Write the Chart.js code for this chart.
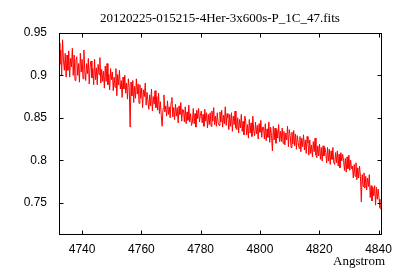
<!DOCTYPE html>
<html lang="en">
<head>
    <meta charset="UTF-8">
    <title>20120225-015215-4Her-3x600s-P_1C_47.fits</title>
    <script src="https://cdn.jsdelivr.net/npm/chart.js"></script>
    <style>
        body { margin: 0; background: #fff; }
        canvas { display: block; }
    </style>
</head>
<body>
    <canvas id="spectrum" width="400" height="280"></canvas>

    <script>
        const chartTitle = '20120225-015215-4Her-3x600s-P_1C_47.fits';
        const xLabel = 'Angstrom';

        // wavelength grid of the spectrum (Angstrom)
        const waveStart = 4732.2;
        const waveStep = 0.3;

        // normalised flux, one line per 3 Angstrom
        const flux = [
            0.938, 0.913, 0.930, 0.900, 0.942, 0.918, 0.906, 0.926, 0.898, 0.924,
            0.906, 0.929, 0.898, 0.920, 0.910, 0.932, 0.900, 0.924, 0.894, 0.917,
            0.922, 0.900, 0.914, 0.892, 0.926, 0.904, 0.919, 0.896, 0.930, 0.907,
            0.894, 0.914, 0.902, 0.920, 0.890, 0.911, 0.917, 0.897, 0.908, 0.889,
            0.919, 0.895, 0.909, 0.889, 0.913, 0.901, 0.921, 0.891, 0.907, 0.893,
            0.905, 0.885, 0.911, 0.893, 0.914, 0.889, 0.901, 0.883, 0.908, 0.895,
            0.904, 0.882, 0.898, 0.886, 0.908, 0.876, 0.901, 0.889, 0.906, 0.884,
            0.894, 0.874, 0.898, 0.884, 0.900, 0.879, 0.891, 0.872, 0.896, 0.886,
            0.839, 0.892, 0.876, 0.894, 0.868, 0.887, 0.873, 0.896, 0.878, 0.890,
            0.867, 0.889, 0.873, 0.885, 0.862, 0.883, 0.875, 0.891, 0.865, 0.880,
            0.880, 0.860, 0.877, 0.864, 0.884, 0.858, 0.875, 0.866, 0.882, 0.862,
            0.875, 0.859, 0.879, 0.855, 0.869, 0.853, 0.840, 0.861, 0.877, 0.857,
            0.864, 0.852, 0.870, 0.854, 0.863, 0.850, 0.868, 0.874, 0.851, 0.862,
            0.848, 0.866, 0.852, 0.862, 0.844, 0.864, 0.854, 0.868, 0.846, 0.860,
            0.859, 0.845, 0.863, 0.843, 0.857, 0.847, 0.865, 0.845, 0.855, 0.841,
            0.845, 0.861, 0.843, 0.855, 0.839, 0.859, 0.849, 0.861, 0.845, 0.853,
            0.858, 0.844, 0.854, 0.840, 0.860, 0.846, 0.856, 0.838, 0.854, 0.842,
            0.856, 0.840, 0.858, 0.846, 0.862, 0.842, 0.852, 0.840, 0.856, 0.844,
            0.841, 0.857, 0.845, 0.859, 0.839, 0.853, 0.843, 0.863, 0.841, 0.855,
            0.850, 0.836, 0.854, 0.840, 0.856, 0.834, 0.852, 0.842, 0.858, 0.838,
            0.836, 0.850, 0.832, 0.848, 0.838, 0.854, 0.834, 0.846, 0.830, 0.852,
            0.846, 0.830, 0.842, 0.826, 0.848, 0.832, 0.844, 0.828, 0.852, 0.834,
            0.829, 0.845, 0.831, 0.841, 0.825, 0.843, 0.833, 0.847, 0.827, 0.839,
            0.839, 0.825, 0.843, 0.823, 0.837, 0.827, 0.845, 0.821, 0.839, 0.829,
            0.811, 0.840, 0.824, 0.838, 0.820, 0.836, 0.826, 0.842, 0.822, 0.834,
            0.822, 0.838, 0.820, 0.834, 0.818, 0.832, 0.824, 0.840, 0.816, 0.836,
            0.829, 0.815, 0.833, 0.819, 0.835, 0.817, 0.831, 0.813, 0.829, 0.821,
            0.814, 0.828, 0.810, 0.826, 0.816, 0.830, 0.812, 0.824, 0.808, 0.828,
            0.820, 0.806, 0.824, 0.808, 0.818, 0.804, 0.822, 0.810, 0.826, 0.806,
            0.803, 0.817, 0.805, 0.819, 0.801, 0.815, 0.799, 0.817, 0.805, 0.815,
            0.809, 0.797, 0.815, 0.799, 0.813, 0.795, 0.811, 0.801, 0.815, 0.797,
            0.795, 0.809, 0.797, 0.811, 0.793, 0.807, 0.791, 0.809, 0.799, 0.807,
            0.800, 0.788, 0.802, 0.786, 0.804, 0.790, 0.806, 0.788, 0.800, 0.790,
            0.793, 0.779, 0.795, 0.781, 0.797, 0.777, 0.791, 0.779, 0.793, 0.781,
            0.751, 0.783, 0.769, 0.785, 0.767, 0.781, 0.765, 0.779, 0.769, 0.783,
            0.756, 0.770, 0.752, 0.768, 0.758, 0.770, 0.747, 0.768, 0.754, 0.766,
            0.754, 0.744, 0.742
        ];

        const xTicks = [4740, 4760, 4780, 4800, 4820, 4840];
        const yTicks = [0.75, 0.8, 0.85, 0.9, 0.95];
        const xMin = 4732.2, xMax = 4840.8;
        const yMin = 0.713, yMax = 0.95;

        const pontos = flux.map((f, i) => ({ x: waveStart + i * waveStep, y: f }));

        // gnuplot-like frame: box, inward ticks on all four sides, title and x label
        const moldura = {
            id: 'moldura',
            afterDraw(chart) {
                const { ctx, chartArea: a, scales: { x, y } } = chart;
                const l = Math.round(a.left) + 0.5, r = Math.round(a.right) + 0.5;
                const t = Math.round(a.top) + 0.5, b = Math.round(a.bottom) + 0.5;
                const len = 4;
                ctx.save();
                ctx.strokeStyle = '#000';
                ctx.lineWidth = 1;
                ctx.beginPath();
                xTicks.forEach(v => {
                    const px = Math.round(x.getPixelForValue(v)) + 0.5;
                    ctx.moveTo(px, b); ctx.lineTo(px, b - len);
                    ctx.moveTo(px, t); ctx.lineTo(px, t + len);
                });
                yTicks.forEach(v => {
                    const py = Math.round(y.getPixelForValue(v)) + 0.5;
                    ctx.moveTo(l, py); ctx.lineTo(l + len, py);
                    ctx.moveTo(r, py); ctx.lineTo(r - len, py);
                });
                ctx.stroke();
                ctx.strokeRect(l, t, r - l, b - t);

                ctx.fillStyle = '#000';
                ctx.font = '13px "Liberation Serif", serif';
                ctx.textAlign = 'center';
                ctx.textBaseline = 'middle';
                ctx.fillText(chartTitle, (a.left + a.right) / 2, 19);
                ctx.textAlign = 'right';
                ctx.fillText(xLabel, 385, 262);
                ctx.restore();
            }
        };

        new Chart(document.getElementById('spectrum'), {
            type: 'line',
            data: {
                datasets: [{
                    data: pontos,
                    borderColor: '#ff0000',
                    borderWidth: 1,
                    pointRadius: 0,
                    tension: 0
                }]
            },
            options: {
                responsive: false,
                animation: false,
                layout: { padding: { top: 33, right: 19, left: 0, bottom: 0 } },
                plugins: {
                    legend: { display: false },
                    tooltip: { enabled: false }
                },
                scales: {
                    x: {
                        type: 'linear',
                        min: xMin,
                        max: xMax,
                        afterBuildTicks: s => { s.ticks = xTicks.map(v => ({ value: v })); },
                        afterFit: s => { s.height = 46; },
                        grid: { display: false, drawTicks: false },
                        border: { display: false },
                        ticks: {
                            padding: 8,
                            color: '#000',
                            font: { family: '"Liberation Sans", Arial, sans-serif', size: 12 },
                            maxRotation: 0,
                            callback: v => String(v)
                        }
                    },
                    y: {
                        min: yMin,
                        max: yMax,
                        afterBuildTicks: s => { s.ticks = yTicks.map(v => ({ value: v })); },
                        afterFit: s => { s.width = 59; },
                        grid: { display: false, drawTicks: false },
                        border: { display: false },
                        ticks: {
                            padding: 12,
                            color: '#000',
                            font: { family: '"Liberation Sans", Arial, sans-serif', size: 12 },
                            callback: v => String(v)
                        }
                    }
                }
            },
            plugins: [moldura]
        });
    </script>
</body>
</html>
